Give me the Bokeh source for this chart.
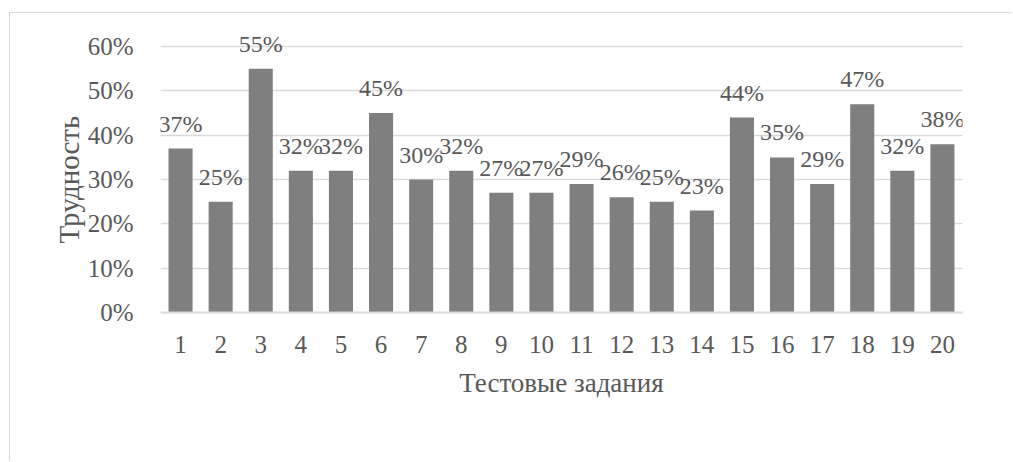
from bokeh.plotting import figure
from bokeh.models import ColumnDataSource, Range1d, FixedTicker, NumeralTickFormatter, LabelSet, Title
from bokeh.embed import file_html
from bokeh.resources import INLINE

tasks = list(range(1, 21))
difficulty = [37, 25, 55, 32, 32, 45, 30, 32, 27, 27, 29, 26, 25, 23, 44, 35, 29, 47, 32, 38]
y_ticks = [0, 0.1, 0.2, 0.3, 0.4, 0.5, 0.6]

FONT = "Liberation Serif"
TXT = "#595959"

src = ColumnDataSource(dict(
    x=tasks,
    y=[v / 100 for v in difficulty],
    lab=[f"{v}%" for v in difficulty],
))

p = figure(width=1003, height=449, output_backend="svg", toolbar_location=None,
           x_range=Range1d(0.5, 20.5), y_range=Range1d(0, 0.65),
           min_border_left=150, min_border_right=51, min_border_top=11, min_border_bottom=150)
p.styles = {"border-left": "1px solid #d9d9d9", "border-top": "1px solid #d9d9d9",
            "margin-left": "9px", "margin-top": "12px"}
p.outline_line_color = None

p.vbar(x="x", top="y", width=0.6, bottom=0, source=src, fill_color="#7f7f7f", line_color=None)
labels = LabelSet(x="x", y="y", text="lab", source=src, text_align="center", text_baseline="middle",
                  y_offset=25, text_font=FONT, text_font_size="24px", text_color=TXT)
p.add_layout(labels)

p.xgrid.grid_line_color = None
p.ygrid.grid_line_color = "#d9d9d9"
p.ygrid.grid_line_width = 1.5

p.yaxis.ticker = FixedTicker(ticks=y_ticks)
p.yaxis.formatter = NumeralTickFormatter(format="0%")
p.xaxis.ticker = FixedTicker(ticks=tasks)

for ax in (p.xaxis[0], p.yaxis[0]):
    ax.major_tick_line_color = None
    ax.minor_tick_line_color = None
    ax.major_label_text_font = FONT
    ax.major_label_text_font_size = "25px"
    ax.major_label_text_color = TXT
    ax.axis_label_text_font = FONT
    ax.axis_label_text_font_size = "27px"
    ax.axis_label_text_color = TXT
    ax.axis_label_text_font_style = "normal"

p.yaxis.axis_line_color = None
p.xaxis.axis_line_color = "#d9d9d9"
p.xaxis.axis_line_width = 2
p.yaxis.major_label_standoff = 21
p.xaxis.major_label_standoff = 17
p.xaxis.axis_label = "Тестовые задания"
p.xaxis.axis_label_standoff = 12

ytitle = Title(text="Трудность", align="left", offset=69, text_font=FONT, text_font_size="29px",
               text_font_style="normal", text_color=TXT, standoff=0)
p.add_layout(ytitle, "left")

open("out.html", "w").write(file_html(p, INLINE))
